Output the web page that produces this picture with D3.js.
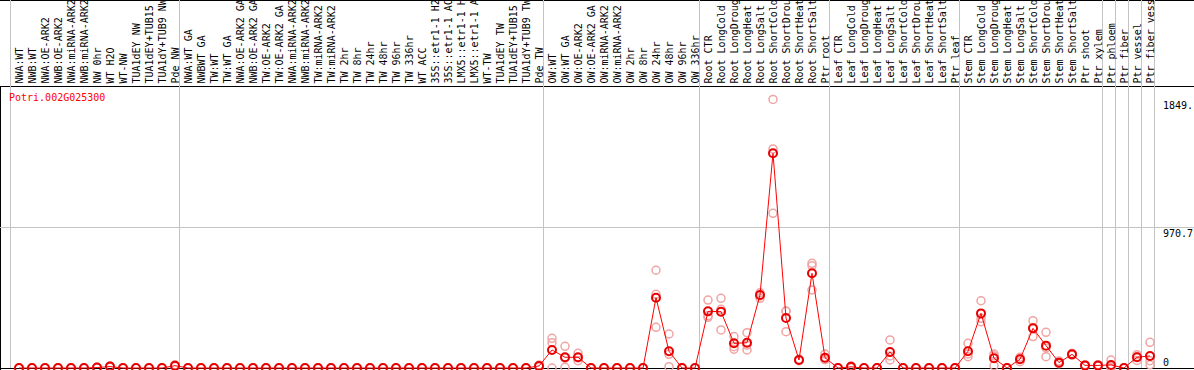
<!DOCTYPE html>
<html>
<head>
<meta charset="utf-8">
<script src="https://cdn.jsdelivr.net/npm/d3@7"></script>
<style>
    body { margin: 0; background: #fff; }
    svg text { font-family: "DejaVu Sans Mono", monospace; font-size: 10px; }
</style>
</head>
<body>
<div id="chart"></div>
<script>

// gene shown in the plot
const geneId = "Potri.002G025300";

// sample (column) names, left to right
const samples = [
    "NWA:WT", "NWB:WT", "NWA:OE-ARK2", "NWB:OE-ARK2", "NWA:miRNA-ARK2", "NWB:miRNA-ARK2",
    "NW 0hr", "WT H2O", "WT-NW", "TUA1dEY NW", "TUA1dEY+TUB15", "TUA1dY+TUB9 NW", "Pde NW",
    "NWA:WT GA", "NWBWT GA", "TW:WT", "TW:WT GA", "NWA:OE-ARK2 GA", "NWB:OE-ARK2 GA",
    "TW:OE-ARK2", "TW:OE-ARK2 GA", "NWA:miRNA-ARK2", "NWB:miRNA-ARK2", "TW:miRNA-ARK2",
    "TW:miRNA-ARK2", "TW 2hr", "TW 8hr", "TW 24hr", "TW 48hr", "TW 96hr", "TW 336hr",
    "WT ACC", "35S::etr1-1 H2O", "35S::etr1-1 ACC", "LMX5::etr1-1 H2O", "LMX5::etr1-1 ACC",
    "WT-TW", "TUA1dEY TW", "TUA1dEY+TUB15", "TUA1dY+TUB9 TW", "Pde TW",
    "OW:WT", "OW:WT GA", "OW:OE-ARK2", "OW:OE-ARK2 GA", "OW:miRNA-ARK2", "OW:miRNA-ARK2",
    "OW 2hr", "OW 8hr", "OW 24hr", "OW 48hr", "OW 96hr", "OW 336hr",
    "Root CTR", "Root LongCold", "Root LongDrought", "Root LongHeat", "Root LongSalt",
    "Root ShortCold", "Root ShortDrought", "Root ShortHeat", "Root ShortSalt", "Ptr root",
    "Leaf CTR", "Leaf LongCold", "Leaf LongDrought", "Leaf LongHeat", "Leaf LongSalt",
    "Leaf ShortCold", "Leaf ShortDrought", "Leaf ShortHeat", "Leaf ShortSalt", "Ptr leaf",
    "Stem CTR", "Stem LongCold", "Stem LongDrought", "Stem LongHeat", "Stem LongSalt",
    "Stem ShortCold", "Stem ShortDrought", "Stem ShortHeat", "Stem ShortSalt", "Ptr shoot",
    "Ptr xylem", "Ptr phloem", "Ptr fiber", "Ptr vessel", "Ptr fiber vessel"
];

// mean expression per sample
const meanValues = [
    0, 0, 0, 0, 0, 0, 3, 10, 0, 0, 0, 0, 16,
    0, 0, 0, 0, 0, 0, 0, 0, 0, 0, 0, 0, 0, 0, 0, 0, 0, 0, 0, 0, 0, 0, 0, 0, 0, 0, 0, 14,
    124, 74, 74, 0, 0, 0, 0, 0, 484, 115, 0, 0,
    390, 388, 170, 174, 503, 1478, 344, 55, 652, 71,
    0, 8, 0, 0, 110, 0, 0, 0, 0, 0,
    115, 376, 67, 0, 60, 273, 154, 37, 94, 18,
    18, 21, 0, 74, 83
];

// the three replicates per sample
const rep1 = [
    0, 0, 0, 0, 0, 0, 5, 14, 0, 0, 0, 0, 22,
    0, 0, 0, 0, 0, 0, 0, 0, 0, 0, 0, 0, 0, 0, 0, 0, 0, 0, 0, 0, 0, 0, 0, 0, 0, 0, 0, 20,
    204, 149, 101, 0, 0, 0, 0, 0, 673, 234, 0, 0,
    468, 480, 216, 243, 518, 1849, 392, 60, 721, 96,
    0, 14, 0, 0, 193, 0, 0, 0, 0, 0,
    170, 463, 96, 0, 74, 326, 246, 48, 100, 22,
    22, 55, 0, 92, 177
];
const rep2 = [
    0, 0, 0, 0, 0, 0, 3, 10, 0, 0, 0, 0, 16,
    0, 0, 0, 0, 0, 0, 0, 0, 0, 0, 0, 0, 0, 0, 0, 0, 0, 0, 0, 0, 0, 0, 0, 0, 0, 0, 0, 14,
    174, 68, 70, 0, 0, 0, 0, 0, 507, 94, 0, 0,
    360, 404, 147, 158, 496, 1508, 390, 55, 704, 60,
    0, 8, 0, 0, 83, 0, 0, 0, 0, 0,
    97, 342, 83, 0, 62, 278, 138, 33, 94, 18,
    18, 8, 0, 78, 50
];
const rep3 = [
    0, 0, 0, 0, 0, 0, 1, 6, 0, 0, 0, 0, 10,
    0, 0, 0, 0, 0, 0, 0, 0, 0, 0, 0, 0, 0, 0, 0, 0, 0, 0, 0, 0, 0, 0, 0, 0, 0, 0, 0, 8,
    0, 5, 50, 0, 0, 0, 0, 0, 280, 9, 0, 0,
    349, 262, 129, 124, 480, 1065, 250, 50, 537, 57,
    0, 2, 0, 0, 55, 0, 0, 0, 0, 0,
    78, 319, 16, 0, 43, 216, 78, 30, 88, 14,
    14, 0, 0, 52, 23
];

// index of the first sample of each block (a grey separator is drawn there)
const groupStarts = [0, 13, 41, 53, 63, 73, 84, 85, 86, 87, 88];

// right hand scale labels
const yTickValues = [1849, 970.7, 0];
const yTickLabels = ["1849.", "970.7", "0"];
const yMax = 1941.4;


class ExpressionVis {

    constructor(_parentElement) {
        this.parentElement = _parentElement;
        this.initVis();
    }

    initVis() {
        let vis = this;

        vis.width = 1194;
        vis.height = 370;
        vis.labelBottom = 86;

        vis.svg = d3.select("#" + vis.parentElement).append("svg")
            .attr("width", vis.width)
            .attr("height", vis.height);

        vis.x = d3.scaleBand()
            .domain(d3.range(samples.length))
            .range([11, 11 + 13 * samples.length]);

        vis.y = d3.scaleLinear()
            .domain([0, yMax])
            .range([368, vis.labelBottom]);

        vis.wrangleData();
    }

    wrangleData() {
        let vis = this;

        vis.displayData = samples.map(function(name, i) {
            return { index: i, name: name, mean: meanValues[i], reps: [rep1[i], rep2[i], rep3[i]] };
        });

        vis.updateVis();
    }

    cx(i) {
        return this.x(i) + this.x.bandwidth() / 2 + 1.5;
    }

    edge(i) {
        return i >= samples.length ? this.x.range()[1] : this.x(i);
    }

    updateVis() {
        let vis = this;

        // frame
        let frame = vis.svg.append("g").attr("class", "frame")
            .attr("stroke", "#000").attr("stroke-width", 1).attr("shape-rendering", "crispEdges");
        frame.append("line").attr("x1", 0).attr("x2", vis.width).attr("y1", 0.5).attr("y2", 0.5);
        frame.append("line").attr("x1", 0).attr("x2", vis.width)
            .attr("y1", vis.labelBottom + 0.5).attr("y2", vis.labelBottom + 0.5);
        frame.append("line").attr("x1", 0).attr("x2", vis.width)
            .attr("y1", vis.y(0) + 0.5).attr("y2", vis.y(0) + 0.5);
        frame.append("line").attr("x1", 0.5).attr("x2", 0.5)
            .attr("y1", vis.labelBottom).attr("y2", vis.height);

        // grey separators and middle grid line
        vis.svg.append("g").attr("class", "separators")
            .selectAll("line")
            .data(groupStarts)
            .enter().append("line")
            .attr("x1", d => Math.round(vis.edge(d)) - 0.5)
            .attr("x2", d => Math.round(vis.edge(d)) - 0.5)
            .attr("y1", 0)
            .attr("y2", vis.y(0))
            .attr("stroke", "#c4c4c4")
            .attr("shape-rendering", "crispEdges");

        vis.svg.append("line")
            .attr("x1", 0).attr("x2", vis.width)
            .attr("y1", Math.round(vis.y(yTickValues[1])) + 0.5)
            .attr("y2", Math.round(vis.y(yTickValues[1])) + 0.5)
            .attr("stroke", "#c4c4c4")
            .attr("shape-rendering", "crispEdges");

        // column labels
        vis.svg.append("g").attr("class", "col-labels")
            .selectAll("text")
            .data(vis.displayData)
            .enter().append("text")
            .attr("transform", d => "translate(" + (vis.cx(d.index) + 4) + "," + (vis.labelBottom - 2.5) + ") rotate(-90)")
            .attr("fill", "#000")
            .text(d => d.name);

        // gene id
        vis.svg.append("text")
            .attr("x", 9)
            .attr("y", 101)
            .attr("fill", "#ff0000")
            .text(geneId);

        // value labels on the right
        vis.svg.append("g").attr("class", "y-labels")
            .selectAll("text")
            .data(yTickValues)
            .enter().append("text")
            .attr("x", 1163)
            .attr("y", d => d === 0 ? vis.y(d) - 2 : vis.y(d) + 10)
            .attr("fill", "#000")
            .text((d, i) => yTickLabels[i]);

        // replicates
        let repPoints = [];
        vis.displayData.forEach(function(d) {
            d.reps.forEach(function(r) {
                repPoints.push({ index: d.index, value: r });
            });
        });

        vis.svg.append("g").attr("class", "reps")
            .selectAll("circle")
            .data(repPoints)
            .enter().append("circle")
            .attr("cx", d => vis.cx(d.index))
            .attr("cy", d => vis.y(d.value))
            .attr("r", 4)
            .attr("fill", "none")
            .attr("stroke", "#f0a4a4")
            .attr("stroke-width", 1.5);

        // mean line
        let line = d3.line()
            .x(d => vis.cx(d.index))
            .y(d => vis.y(d.mean));

        vis.svg.append("path")
            .datum(vis.displayData)
            .attr("d", line)
            .attr("fill", "none")
            .attr("stroke", "#ff0000")
            .attr("stroke-width", 1);

        // means
        vis.svg.append("g").attr("class", "means")
            .selectAll("circle")
            .data(vis.displayData)
            .enter().append("circle")
            .attr("cx", d => vis.cx(d.index))
            .attr("cy", d => vis.y(d.mean))
            .attr("r", 4)
            .attr("fill", "none")
            .attr("stroke", "#e80000")
            .attr("stroke-width", 2);
    }
}

new ExpressionVis("chart");

</script>
</body>
</html>
